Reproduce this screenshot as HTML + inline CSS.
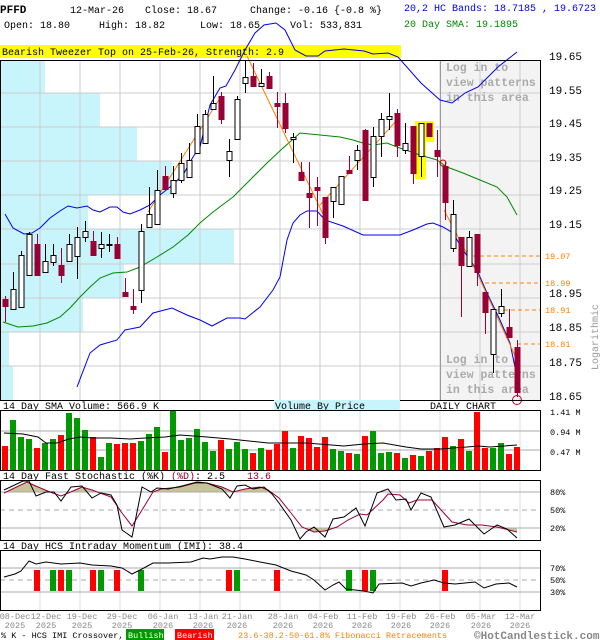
<!DOCTYPE html>
<html><head><meta charset="utf-8"><style>
html,body{margin:0;padding:0;background:#fff;width:600px;height:640px;overflow:hidden}
svg{display:block}
text{font-family:"Liberation Mono",monospace}
</style></head><body>
<svg id="s" width="600" height="640" viewBox="0 0 600 640" xmlns="http://www.w3.org/2000/svg">
<rect width="600" height="640" fill="#fff"/>
<g id="bg"></g>
<g font-size="10" fill="#000">
<text x="0" y="13" font-weight="bold" font-size="11">PFFD</text>
<text x="70" y="13">12-Mar-26</text>
<text x="145" y="13">Close: 18.67</text>
<text x="250" y="13">Change: -0.16 {-0.8 %}</text>
<text x="404" y="11" fill="#0000ee">20,2 HC Bands: 18.7185 , 19.6723</text>
<text x="4" y="28">Open: 18.80</text>
<text x="99" y="28">High: 18.82</text>
<text x="200" y="28">Low: 18.65</text>
<text x="290" y="28">Vol: 533,831</text>
<text x="404" y="27" fill="#008800">20 Day SMA: 19.1895</text>
</g>
<rect x="0" y="45" width="401" height="13" fill="#ffff00"/>
<text x="2" y="55" font-size="10">Bearish Tweezer Top on 25-Feb-26, Strength: 2.9</text>
<g id="main"></g>
<g id="sub"></g>
</svg>
<script>
const NS="http://www.w3.org/2000/svg";
function el(p,t,a,txt){const e=document.createElementNS(NS,t);for(const k in a)e.setAttribute(k,a[k]);if(txt!==undefined)e.textContent=txt;document.getElementById(p).appendChild(e);return e;}
function pl(p,pts,c,w,extra){const a={points:pts.map(q=>q.join(',')).join(' '),fill:'none',stroke:c,'stroke-width':w||1};Object.assign(a,extra||{});return el(p,'polyline',a);}
const X=i=>5+8*i;
[[60,93,45],[93,127,100],[127,161,137],[161,195,172],[195,229,88],[229,264,234],[264,298,124],[298,332,83],[332,366,9],[366,400,13]].forEach(v=>el('bg','rect',{x:0,y:v[0],width:v[2],height:v[1]-v[0],fill:'#c8f4fb'}));
el('bg','rect',{x:440,y:60,width:101,height:340,fill:'#f3f3f3'});
for(let x=40;x<=520;x+=40)el('bg','line',{x1:x,y1:60,x2:x,y2:400,stroke:'#ccc'});
[93,127,161,195,229,264,298,332,366].forEach(y=>el('bg','line',{x1:0,y1:y,x2:541,y2:y,stroke:'#ccc'}));
el('bg','line',{x1:440.5,y1:60,x2:440.5,y2:400,stroke:'#999'});
[[67,'Log in to'],[82,'view patterns'],[97,'in this area'],[359,'Log in to'],[374,'view patterns'],[389,'in this area']].forEach(t=>el('bg','text',{x:446,y:t[0]+4,'font-size':11.5,'font-weight':'bold',fill:'#aaa'},t[1]));
el('bg','rect',{x:415,y:121,width:11,height:58,fill:'#ffff00'});
el('bg','rect',{x:426,y:121,width:8,height:21,fill:'#ffff00'});
[[56,'19.65'],[90,'19.55'],[123,'19.45'],[157,'19.35'],[190,'19.25'],[224,'19.15'],[293,'18.95'],[327,'18.85'],[362,'18.75'],[396,'18.65']].forEach(t=>el('main','text',{x:549,y:t[0]+4,'font-size':11},t[1]));
[[256,473,'19.07'],[283,485,'18.99'],[310,497,'18.91'],[344,517,'18.81']].forEach(f=>{el('main','line',{x1:f[1],y1:f[0],x2:540,y2:f[0],stroke:'#ff8000','stroke-dasharray':'4,3'});el('main','text',{x:545,y:f[0]+3,'font-size':8.5,fill:'#ff8000'},f[2]);});
el('main','text',{x:0,y:0,'font-size':10,fill:'#999',transform:'translate(598,370) rotate(-90)'},'Logarithmic');
const ub=[[5,214],[13,228],[24,234],[32,233],[40,228],[50,218],[60,211],[68,206],[77,208],[87,206],[93,210],[100,212],[110,207],[117,207],[123,212],[130,214],[140,210],[150,205],[160,195],[170,187],[183,175],[193,157],[200,147],[210,105],[220,88],[226,86],[235,70],[245,50],[255,33],[264,25],[276,23],[285,30],[295,50],[306,56],[318,56],[325,51],[344,49],[364,51],[373,54],[388,53],[398,57],[421,83],[440,100],[452,103],[465,93],[478,87],[498,67],[517,52]];
pl('main',ub,'#0000ee',1);
const lb=[[77,387],[90,353],[100,345],[117,340],[125,330],[140,327],[153,313],[172,308],[187,315],[200,320],[212,326],[227,318],[240,318],[245,319],[260,307],[273,290],[280,277],[287,240],[293,223],[300,215],[307,211],[317,211],[325,220],[343,226],[363,235],[400,235],[413,230],[427,224],[433,223],[443,227],[453,233],[463,250],[477,270],[487,293],[500,320],[510,343],[517,377]];
pl('main',lb,'#0000ee',1);
const sma=[[3,322],[18,327],[33,326],[47,323],[60,317],[70,308],[80,297],[90,287],[100,278],[113,273],[127,272],[140,267],[157,257],[173,247],[188,235],[200,223],[213,212],[233,197],[250,180],[267,163],[283,148],[300,133],[320,135],[340,137],[353,140],[363,143],[373,145],[387,143],[397,147],[420,155],[437,160],[447,167],[463,173],[480,180],[497,187],[507,197],[517,215]];
pl('main',sma,'#008800',1);
pl('main',[[148,212],[222,95]],'#ff8000',1);
pl('main',[[247,56],[323,214]],'#ff8000',1);
pl('main',[[320,205],[397,120]],'#ff8000',1);
pl('main',[[444,210],[477,273],[517,360]],'#ff8000',1);
el('main','circle',{cx:443,cy:163,r:3,fill:'none',stroke:'#c00'});
const C=[[299,307,296,322,'r'],[289,309,272,310,'w'],[255,307,251,307,'w'],[234,275,232,275,'w'],[244,276,234,276,'r'],[261,272,244,272,'w'],[255,262,244,266,'w'],[265,276,248,283,'r'],[244,261,234,261,'w'],[237,256,227,279,'w'],[231,237,221,242,'w'],[241,256,231,256,'r'],[244,248,232,258,'w'],[244,245,234,252,'w'],[244,259,237,259,'r'],[292,297,278,297,'r'],[306,310,289,314,'r'],[231,290,224,303,'w'],[214,227,187,227,'w'],[190,224,170,224,'w'],[176,190,166,190,'r'],[180,193,166,198,'w'],[163,180,153,183,'w'],[160,177,143,177,'w'],[126,153,114,153,'w'],[114,143,110,143,'w'],[103,109,76,109,'w'],[96,120,92,124,'r'],[151,160,139,177,'w'],[99,139,96,139,'w'],[77,83,60,93,'w'],[76,87,63,87,'r'],[83,86,69,87,'w'],[76,89,72,89,'r'],[103,107,92,128,'r'],[103,129,93,133,'r'],[137,139,133,163,'w'],[172,181,162,181,'r'],[193,198,162,228,'r'],[187,191,177,226,'r'],[197,238,197,244,'r'],[187,201,187,218,'w'],[176,204,176,204,'w'],[170,174,156,174,'r'],[150,160,145,170,'w'],[130,201,129,201,'r'],[136,177,127,187,'w'],[119,136,113,157,'w'],[116,119,93,130,'w'],[113,146,109,157,'r'],[143,150,123,154,'w'],[126,174,126,184,'r'],[123,156,123,177,'w'],[123,137,123,137,'r'],[150,157,130,177,'r'],[166,203,162,220,'r'],[214,248,200,252,'w'],[237,266,237,317,'r'],[237,266,231,266,'w'],[234,273,234,286,'r'],[292,313,292,334,'r'],[309,354,309,373,'w'],[306,313,289,317,'w'],[327,338,309,338,'r'],[347,393,340,397,'r']];
C.forEach((c,i)=>{const x=X(i);const red=c[4]=='r';const col=red?'#990033':'#000';
el('main','line',{x1:x+0.5,y1:c[2],x2:x+0.5,y2:c[3],stroke:col});
const h=Math.max(1,c[1]-c[0]);
if(red)el('main','rect',{x:x-2.5,y:c[0],width:6,height:h,fill:'#990033'});
else el('main','rect',{x:x-2,y:c[0]+0.5,width:5,height:h,fill:'#fff',stroke:'#000'});});
el('main','circle',{cx:517,cy:400,r:4.5,fill:'none',stroke:'#cc0033'});
el('main','rect',{x:0.5,y:60.5,width:540,height:340,fill:'none',stroke:'#000'});

el('sub','text',{x:3,y:409,'font-size':10},'14 Day SMA Volume: 566.9 K');
el('sub','rect',{x:274,y:400,width:126,height:10,fill:'#c8f4fb'});
el('sub','text',{x:275,y:409,'font-size':10},'Volume By Price');
el('sub','text',{x:430,y:409,'font-size':10},'DAILY CHART');
function panel(y1,y2){for(let x=40;x<=520;x+=40)el('sub','line',{x1:x,y1:y1,x2:x,y2:y2,stroke:'#ddd'});}
panel(410,470);
[431,450].forEach(y=>el('sub','line',{x1:0,y1:y,x2:541,y2:y,stroke:'#aaa'}));
const V=[[446,'r'],[420,'g'],[437,'g'],[439,'g'],[448,'r'],[443,'g'],[439,'g'],[435,'r'],[413,'g'],[418,'g'],[430,'g'],[437,'r'],[457,'g'],[443,'g'],[444,'r'],[443,'r'],[443,'r'],[441,'g'],[434,'g'],[427,'g'],[452,'r'],[411,'g'],[440,'g'],[438,'g'],[429,'g'],[442,'g'],[451,'g'],[440,'r'],[449,'g'],[442,'g'],[449,'g'],[453,'r'],[448,'g'],[450,'r'],[444,'r'],[431,'r'],[448,'g'],[436,'r'],[438,'r'],[447,'r'],[437,'r'],[449,'g'],[451,'g'],[453,'r'],[454,'g'],[436,'r'],[431,'g'],[453,'g'],[452,'g'],[453,'r'],[458,'g'],[455,'r'],[456,'g'],[451,'r'],[448,'r'],[437,'r'],[446,'g'],[439,'r'],[451,'g'],[412,'r'],[448,'r'],[448,'g'],[443,'g'],[454,'r'],[447,'r']];
V.forEach((v,i)=>el('sub','rect',{x:X(i)-3,y:v[0],width:6,height:470-v[0],fill:v[1]=='r'?'#ff0000':'#009900'}));
pl('sub',[[4,433],[23,434],[38,437],[46,443],[57,443],[69,439],[80,437],[92,438],[111,438],[130,439],[145,438],[165,437],[180,435],[207,437],[230,439],[268,443],[306,443],[344,446],[364,444],[383,443],[406,447],[421,449],[440,449],[467,447],[478,446],[490,447],[517,445]],'#000',1);
el('sub','rect',{x:0.5,y:410.5,width:540,height:60,fill:'none',stroke:'#000'});
[[414,'1.41 M'],[434,'0.94 M'],[454,'0.47 M']].forEach(t=>el('sub','text',{x:550,y:t[0]+1,'font-size':8.5},t[1]));
el('sub','text',{x:3,y:479,'font-size':10},'14 Day Fast Stochastic (%K) ');
el('sub','text',{x:171,y:479,'font-size':10,fill:'#990033'},'(%D)');
el('sub','text',{x:195,y:479,'font-size':10},': 2.5');
el('sub','text',{x:247,y:479,'font-size':10,fill:'#990033'},'13.6');
panel(480,540);
const K=[[4,490],[23,481],[29,481],[36,496],[46,492],[54,492],[61,501],[71,487],[82,486],[92,498],[101,493],[111,495],[117,505],[122,530],[132,537],[142,487],[151,492],[157,488],[168,489],[182,486],[197,482],[207,483],[222,489],[230,498],[237,486],[245,485],[253,489],[264,487],[272,494],[279,503],[291,520],[300,539],[306,532],[314,527],[325,537],[333,519],[344,517],[356,508],[365,526],[377,493],[388,489],[396,500],[406,499],[411,510],[421,493],[431,497],[444,527],[455,525],[469,519],[484,534],[497,525],[507,529],[517,538]];
const D=[[4,493],[27,482],[38,487],[50,492],[61,496],[73,491],[82,487],[92,490],[111,497],[122,513],[132,526],[142,510],[153,492],[161,489],[180,487],[195,483],[207,483],[222,487],[233,492],[245,489],[260,487],[268,490],[279,498],[291,513],[302,527],[314,532],[325,531],[337,527],[348,520],[360,514],[367,515],[383,500],[388,494],[400,495],[409,503],[417,500],[432,500],[452,522],[467,525],[482,525],[497,527],[517,532]];
const defs=el('sub','defs',{});
const cp1=document.createElementNS(NS,'clipPath');cp1.setAttribute('id','top80');defs.appendChild(cp1);
const r1=document.createElementNS(NS,'rect');r1.setAttribute('x',0);r1.setAttribute('y',480);r1.setAttribute('width',541);r1.setAttribute('height',12);cp1.appendChild(r1);
const cp2=document.createElementNS(NS,'clipPath');cp2.setAttribute('id','bot20');defs.appendChild(cp2);
const r2=document.createElementNS(NS,'rect');r2.setAttribute('x',0);r2.setAttribute('y',528);r2.setAttribute('width',541);r2.setAttribute('height',12);cp2.appendChild(r2);
el('sub','polygon',{points:[[4,492],...D,[517,492]].map(q=>q.join(',')).join(' '),fill:'#c8c49a','clip-path':'url(#top80)'});
el('sub','polygon',{points:[[4,528],...D,[517,528]].map(q=>q.join(',')).join(' '),fill:'#c8c49a','clip-path':'url(#bot20)'});
el('sub','line',{x1:0,y1:492,x2:541,y2:492,stroke:'#aaa'});
el('sub','line',{x1:0,y1:510,x2:541,y2:510,stroke:'#aaa','stroke-dasharray':'5,4'});
el('sub','line',{x1:0,y1:528,x2:541,y2:528,stroke:'#aaa'});
pl('sub',D,'#990033',1);
pl('sub',K,'#000',1);
el('sub','rect',{x:0.5,y:480.5,width:540,height:60,fill:'none',stroke:'#000'});
[[492,'80%'],[510,'50%'],[528,'20%']].forEach(t=>el('sub','text',{x:550,y:t[0]+3,'font-size':8.5},t[1]));
el('sub','text',{x:3,y:549,'font-size':10},'14 Day HCS Intraday Momentum (IMI): 38.4');
panel(550,610);
el('sub','line',{x1:0,y1:568,x2:541,y2:568,stroke:'#aaa'});
el('sub','line',{x1:0,y1:580,x2:541,y2:580,stroke:'#aaa','stroke-dasharray':'5,4'});
el('sub','line',{x1:0,y1:592,x2:541,y2:592,stroke:'#aaa'});
[[37,'r'],[53,'g'],[61,'r'],[69,'g'],[93,'r'],[101,'g'],[117,'r'],[141,'g'],[229,'r'],[237,'g'],[277,'r'],[349,'g'],[365,'r'],[373,'g'],[445,'r']].forEach(b=>el('sub','rect',{x:b[0]-3,y:570,width:6,height:21,fill:b[1]=='r'?'#ff0000':'#009900'}));
pl('sub',[[4,577],[15,574],[21,571],[29,561],[36,564],[46,562],[61,564],[80,563],[92,565],[111,566],[122,568],[132,574],[142,569],[153,563],[168,563],[191,562],[203,558],[210,559],[222,557],[233,557],[245,559],[260,562],[276,565],[291,571],[306,575],[314,580],[325,590],[333,585],[339,582],[346,589],[364,591],[373,593],[379,584],[402,583],[411,586],[421,583],[434,580],[444,583],[455,584],[475,582],[484,588],[496,584],[509,583],[517,587]],'#000',1);
el('sub','rect',{x:0.5,y:550.5,width:540,height:60,fill:'none',stroke:'#000'});
[[568,'70%'],[580,'50%'],[592,'30%']].forEach(t=>el('sub','text',{x:550,y:t[0]+3,'font-size':8.5},t[1]));
[[15,'08-Dec'],[46,'12-Dec'],[82,'19-Dec'],[122,'29-Dec'],[163,'06-Jan'],[203,'13-Jan'],[237,'21-Jan'],[283,'28-Jan'],[323,'04-Feb'],[362,'11-Feb'],[401,'19-Feb'],[440,'26-Feb'],[481,'05-Mar'],[520,'12-Mar']].forEach((d,i)=>{const yr=i<4?'2025':'2026';el('sub','text',{x:d[0],y:619,'font-size':8.5,fill:'#888','text-anchor':'middle'},d[1]);el('sub','text',{x:d[0],y:628,'font-size':8.5,fill:'#888','text-anchor':'middle'},yr);});
el('sub','text',{x:1,y:638,'font-size':8.5},'% K - HCS IMI Crossover,');
el('sub','rect',{x:126,y:629,width:38,height:11,fill:'#009900'});
el('sub','text',{x:128,y:638,'font-size':8.5,fill:'#fff'},'Bullish');
el('sub','rect',{x:175,y:629,width:39,height:11,fill:'#ff0000'});
el('sub','text',{x:177,y:638,'font-size':8.5,fill:'#fff'},'Bearish');
el('sub','text',{x:238,y:638,'font-size':8.5,fill:'#ff8000'},'23.6-38.2-50-61.8% Fibonacci Retracements');
el('sub','text',{x:474,y:639,'font-size':11,fill:'#888','font-weight':'bold'},'©HotCandlestick.com');
</script>
</body></html>
